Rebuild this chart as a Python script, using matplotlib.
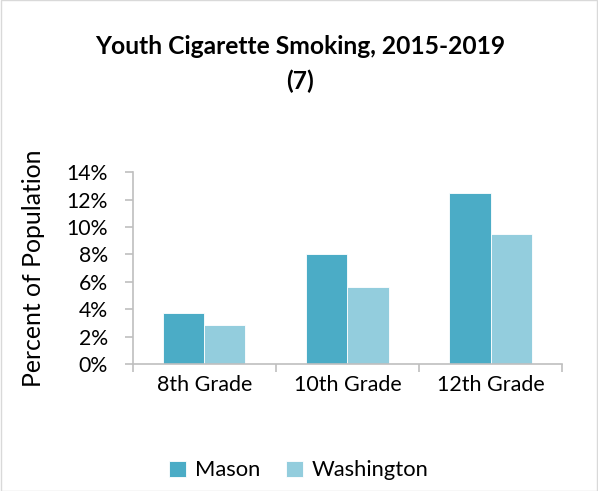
import numpy as np
import matplotlib.pyplot as plt
from matplotlib.patches import Rectangle

# Dados
grades = ['8th Grade', '10th Grade', '12th Grade']
mason = [3.7, 8.0, 12.5]
washington = [2.87, 5.62, 9.5]
yticks = [0, 2, 4, 6, 8, 10, 12, 14]

plt.rcParams['font.family'] = ['Lato', 'DejaVu Sans']

fig = plt.figure(figsize=(5.98, 4.91), dpi=100)
ax = fig.add_axes([0.222, 0.2587, 0.718, 0.3903])

x = np.arange(len(grades))
w = 0.287
ax.bar(x - w / 2, mason, w, color='#4BACC6', edgecolor='white', linewidth=0.6, label='Mason')
ax.bar(x + w / 2, washington, w, color='#93CDDD', edgecolor='white', linewidth=0.6, label='Washington')

ax.set_xlim(-0.5, 2.5)
ax.set_ylim(0, 14)
ax.set_yticks(yticks)
ax.set_yticklabels([f'{v}%' for v in yticks], fontsize=15.3)
ax.set_xticks(x)
ax.set_xticklabels(grades, fontsize=15.5)
ax.tick_params(axis='x', length=0, pad=8)
ax.set_xticks([-0.5, 0.5, 1.5, 2.5], minor=True)
ax.tick_params(axis='x', which='minor', length=6, color='#BFBFBF', width=1.2)
ax.tick_params(axis='y', length=6, color='#BFBFBF', width=1.2, pad=12)

for s in ['top', 'right']:
    ax.spines[s].set_visible(False)
for s in ['left', 'bottom']:
    ax.spines[s].set_color('#BFBFBF')
    ax.spines[s].set_linewidth(1.2)

ax.set_ylabel('Percent of Population', fontsize=17.8, labelpad=15)

fig.text(0.502, 0.905, 'Youth Cigarette Smoking, 2015-2019', ha='center', va='center',
         fontsize=17.7, fontweight='bold')
fig.text(0.502, 0.835, '(7)', ha='center', va='center', fontsize=17.7, fontweight='bold')

fig.legend(loc='center', bbox_to_anchor=(0.5, 0.042), ncol=2, frameon=False, fontsize=15.8,
           handlelength=0.75, handleheight=0.75, handletextpad=0.4, columnspacing=1.2)

fig.patches.append(Rectangle((0.001, 0.001), 0.998, 0.998, transform=fig.transFigure,
                             fill=False, edgecolor='#D9D9D9', linewidth=1))

fig.savefig('out.png', dpi=100)
